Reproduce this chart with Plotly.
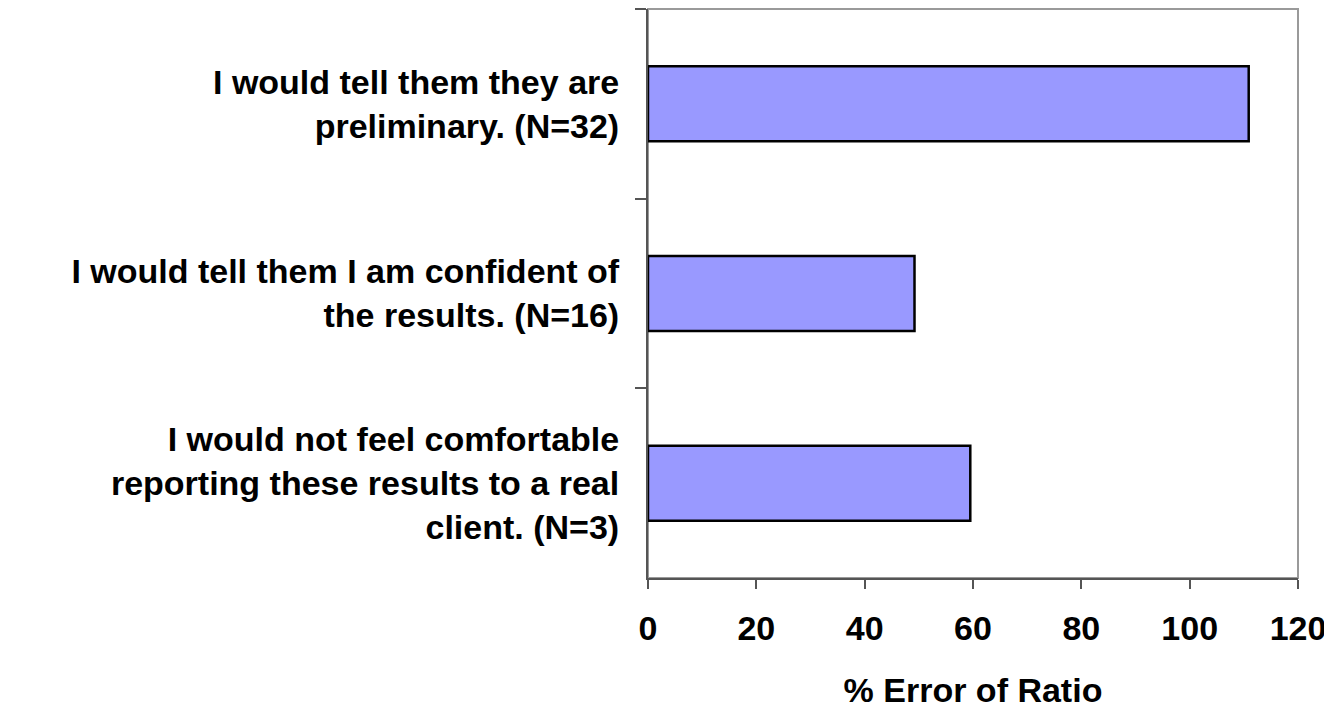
import plotly.graph_objects as go

responses = [
    "I would tell them they are<br>preliminary. (N=32)",
    "I would tell them I am confident of<br>the results. (N=16)",
    "I would not feel comfortable<br>reporting these results to a real<br>client. (N=3)",
]
pct_error = [110.9, 49.2, 59.5]

fig = go.Figure(go.Bar(
    x=pct_error, y=responses, orientation='h',
    marker=dict(color='#9999FF', line=dict(color='black', width=2.5)),
))

# the page keeps the browser's 8px body margin, so the figure is a bit smaller
fig.update_layout(
    width=1324, height=701,
    margin=dict(l=640, r=34, t=1, b=131),
    plot_bgcolor='white', paper_bgcolor='white',
    font=dict(family='Liberation Sans, Arial, sans-serif', color='black', size=34),
    bargap=0.605,
    showlegend=False,
)
# light gray frame on the top and right side of the plot area
fig.add_shape(type='rect', xref='paper', yref='paper', x0=0, y0=0, x1=1, y1=1,
              line=dict(color='#9a9a9a', width=2), layer='below')

fig.update_xaxes(
    range=[0, 120], dtick=20, showgrid=False, zeroline=False, automargin=False,
    showline=True, linecolor='#555555', linewidth=2,
    ticks='outside', ticklen=9, tickcolor='#555555', tickwidth=1.5,
    tickfont=dict(size=34, weight='bold'), ticklabelstandoff=10,
    title=dict(text='% Error of Ratio', font=dict(size=34, weight='bold'), standoff=32),
)
fig.update_yaxes(
    autorange='reversed', showgrid=False, zeroline=False, automargin=False,
    showline=True, linecolor='#555555', linewidth=2,
    ticks='outside', tickson='boundaries', ticklen=11, tickcolor='#555555', tickwidth=1.5,
    tickfont=dict(size=34, weight='bold'), ticklabelstandoff=20,
)

fig.write_html("out.html")
